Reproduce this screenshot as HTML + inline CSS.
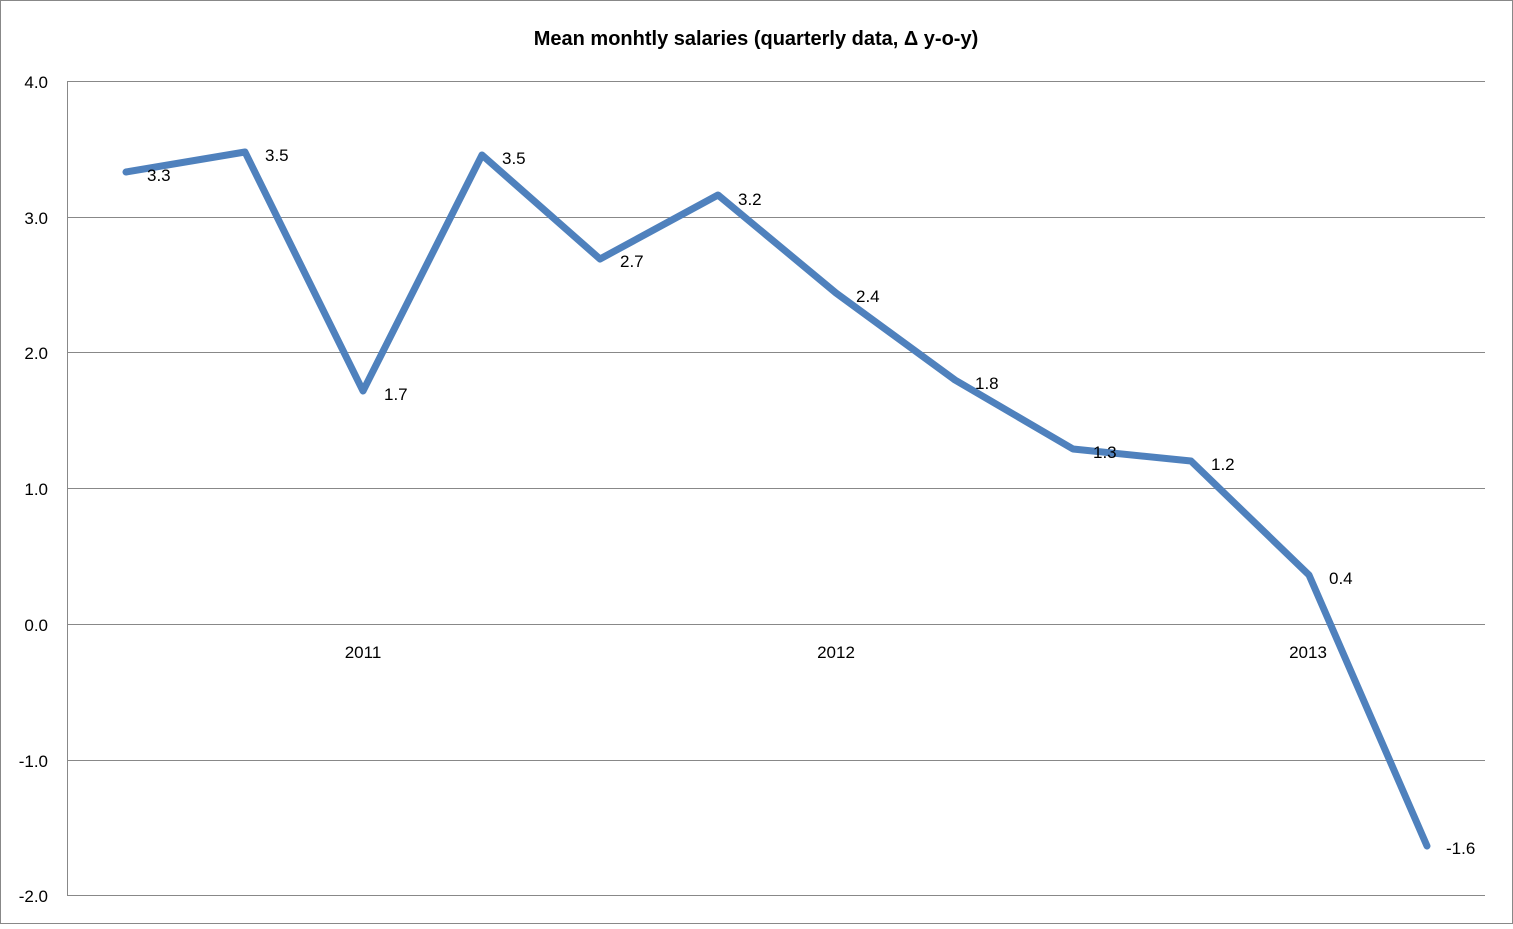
<!DOCTYPE html>
<html><head><style>body{margin:0;background:#fff}</style></head><body>
<svg width="1513" height="924" xmlns="http://www.w3.org/2000/svg" font-family="Liberation Sans, DejaVu Sans, sans-serif">
<rect x="0.5" y="0.5" width="1512" height="923" fill="#fff" stroke="#888"/>
<text x="756" y="45" text-anchor="middle" font-size="20" font-weight="bold">Mean monhtly salaries (quarterly data, Δ  y-o-y)</text>
<g stroke="#888" stroke-width="1">
<line x1="67" y1="81.5" x2="1485" y2="81.5"/>
<line x1="67" y1="217.5" x2="1485" y2="217.5"/>
<line x1="67" y1="352.5" x2="1485" y2="352.5"/>
<line x1="67" y1="488.5" x2="1485" y2="488.5"/>
<line x1="67" y1="624.5" x2="1485" y2="624.5"/>
<line x1="67" y1="760.5" x2="1485" y2="760.5"/>
<line x1="67" y1="895.5" x2="1485" y2="895.5"/>
<line x1="67.5" y1="81" x2="67.5" y2="895"/>
</g>
<g font-size="17" text-anchor="end">
<text x="48" y="88">4.0</text><text x="48" y="224">3.0</text><text x="48" y="359">2.0</text>
<text x="48" y="495">1.0</text><text x="48" y="631">0.0</text><text x="48" y="767">-1.0</text><text x="48" y="902">-2.0</text>
</g>
<g font-size="17" text-anchor="middle">
<text x="363" y="658">2011</text><text x="836" y="658">2012</text><text x="1308" y="658">2013</text>
</g>
<polyline fill="none" stroke="#4f81bd" stroke-width="7" stroke-linejoin="round" stroke-linecap="round"
points="126,172 245,152 363,391 482,155 600,259 718,195 836,293 955,380 1073,449 1191,461 1309,575 1427,846"/>
<g font-size="17">
<text x="147" y="181">3.3</text><text x="265" y="161">3.5</text><text x="384" y="400">1.7</text>
<text x="502" y="164">3.5</text><text x="620" y="267">2.7</text><text x="738" y="205">3.2</text>
<text x="856" y="302">2.4</text><text x="975" y="389">1.8</text><text x="1093" y="458">1.3</text>
<text x="1211" y="470">1.2</text><text x="1329" y="584">0.4</text><text x="1446" y="854">-1.6</text>
</g>
</svg>
</body></html>
